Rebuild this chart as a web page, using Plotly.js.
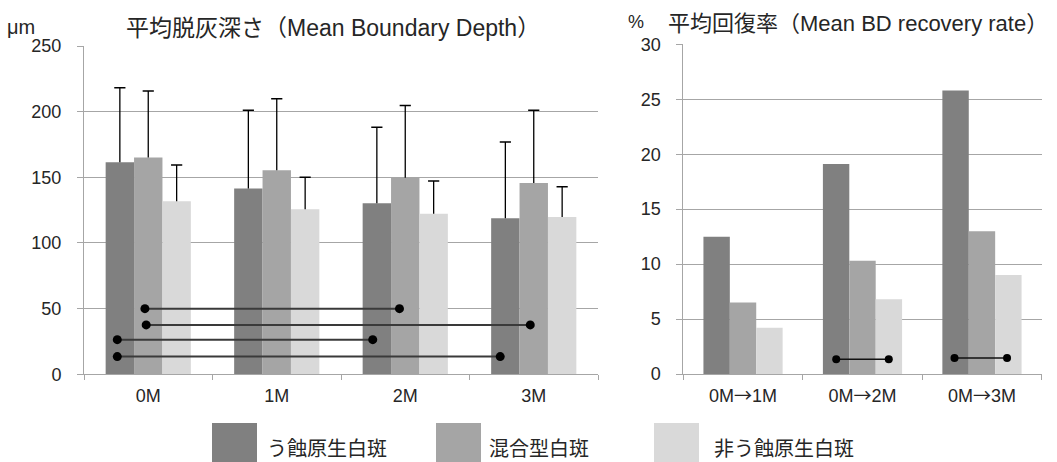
<!DOCTYPE html>
<html>
<head>
<meta charset="utf-8">
<script src="https://cdn.plot.ly/plotly-3.0.1.min.js"></script>
<style>html,body{margin:0;padding:0;background:#fff;}#chart{width:1057px;height:462px;}</style>
</head>
<body>
<div id="chart"></div>
<script>
// ---- data ----
const categoriesDepth = ['0M', '1M', '2M', '3M'];
const categoriesRate = ['0M→1M', '0M→2M', '0M→3M'];
const seriesNames = ['う蝕原生白斑', '混合型白斑', '非う蝕原生白斑'];

const depthCaries = [161.4, 141.4, 130.2, 118.8];
const depthMixed = [165.0, 155.3, 149.7, 145.7];
const depthNonCaries = [131.7, 125.6, 122.3, 119.8];
const sdCaries = [56.9, 59.6, 57.9, 58.1];
const sdMixed = [50.7, 54.6, 54.9, 55.3];
const sdNonCaries = [27.7, 24.4, 24.9, 23.1];

const rateCaries = [12.5, 19.1, 25.8];
const rateMixed = [6.5, 10.3, 13.0];
const rateNonCaries = [4.2, 6.8, 9.0];

// significance connectors (category-index coordinates)
const depthSigX0 = [-0.026, -0.016, -0.241, -0.241];
const depthSigX1 = [1.955, 2.973, 1.747, 2.739];
const depthSigY = [50, 37.6, 26.4, 13.5];
const rateSigX0 = [0.78, 1.77];
const rateSigX1 = [1.22, 2.21];
const rateSigY = [1.35, 1.45];

const depthTicks = [0, 50, 100, 150, 200, 250];
const rateTicks = [0, 5, 10, 15, 20, 25, 30];

// ---- style ----
const colors = ['#808080', '#a5a5a5', '#d9d9d9'];
const W = 1057, H = 462;
const px = v => v / W;
const py = v => 1 - v / H;
const FONT = 'Liberation Sans, Arial, Noto Sans CJK JP, sans-serif';
const TXT = '#262626';
const GRID = '#a6a6a6';
const BARGAP = 0.337;
const barW = (1 - BARGAP) / 3;

const depthVals = [depthCaries, depthMixed, depthNonCaries];
const depthSd = [sdCaries, sdMixed, sdNonCaries];
const rateVals = [rateCaries, rateMixed, rateNonCaries];

const traces = [];
depthVals.forEach((vals, i) => {
  traces.push({
    type: 'bar', x: categoriesDepth, y: vals, name: seriesNames[i],
    xaxis: 'x', yaxis: 'y', showlegend: false, hoverinfo: 'skip',
    marker: {color: colors[i], line: {width: 0}},
    error_y: {type: 'data', symmetric: false, array: depthSd[i],
      arrayminus: vals.map(() => 0), color: '#000', thickness: 1.3, width: 0}
  });
});
// caps at the top of the (one-sided) error bars
depthVals.forEach((vals, i) => {
  traces.push({
    type: 'scatter', mode: 'markers',
    x: vals.map((v, j) => j + (i - 1) * barW),
    y: vals.map((v, j) => v + depthSd[i][j]),
    xaxis: 'x3', yaxis: 'y', showlegend: false, hoverinfo: 'skip',
    marker: {symbol: 'line-ew-open', size: 8, color: '#000', line: {color: '#000', width: 1.5}}
  });
});
rateVals.forEach((vals, i) => {
  traces.push({
    type: 'bar', x: categoriesRate, y: vals, name: seriesNames[i],
    xaxis: 'x2', yaxis: 'y2', showlegend: false, hoverinfo: 'skip',
    marker: {color: colors[i], line: {width: 0}}
  });
});
depthSigY.forEach((yv, i) => {
  traces.push({
    type: 'scatter', mode: 'lines+markers', x: [depthSigX0[i], depthSigX1[i]], y: [yv, yv],
    xaxis: 'x3', yaxis: 'y', showlegend: false, hoverinfo: 'skip',
    line: {color: '#3a3a3a', width: 2}, marker: {color: '#000', size: 9}
  });
});
rateSigY.forEach((yv, i) => {
  traces.push({
    type: 'scatter', mode: 'lines+markers', x: [rateSigX0[i], rateSigX1[i]], y: [yv, yv],
    xaxis: 'x4', yaxis: 'y2', showlegend: false, hoverinfo: 'skip',
    line: {color: '#111', width: 1.5}, marker: {color: '#000', size: 8}
  });
});

const xCommon = {
  type: 'category', showline: true, linecolor: GRID, linewidth: 1,
  ticks: 'outside', tickson: 'boundaries', ticklen: 5, tickcolor: GRID,
  showgrid: false, zeroline: false, fixedrange: true, ticklabelstandoff: 5,
  tickfont: {family: FONT, size: 18, color: TXT}
};
const yCommon = {
  showline: true, linecolor: GRID, linewidth: 1, ticks: 'outside', ticklen: 6,
  tickcolor: GRID, showgrid: true, gridcolor: GRID, gridwidth: 1, zeroline: false,
  tickfont: {family: FONT, size: 18, color: TXT}, ticklabelstandoff: 12, fixedrange: true
};

const shapes = [];
const annotations = [];
const swatchX = [212, 436, 654];
const labelX = [265, 487, 712];
seriesNames.forEach((nm, i) => {
  shapes.push({type: 'rect', xref: 'paper', yref: 'paper',
    x0: px(swatchX[i]), x1: px(swatchX[i] + 45), y0: py(462), y1: py(423),
    fillcolor: colors[i], line: {width: 0}});
  annotations.push({xref: 'paper', yref: 'paper', x: px(labelX[i]), y: py(449),
    xanchor: 'left', yanchor: 'middle', showarrow: false, text: nm,
    font: {family: FONT, size: 20, color: TXT}});
});
annotations.push(
  {xref: 'paper', yref: 'paper', x: px(333), y: py(28), xanchor: 'center', yanchor: 'middle',
    showarrow: false, text: '平均脱灰深さ（Mean Boundary Depth）', font: {family: FONT, size: 23, color: TXT}},
  {xref: 'paper', yref: 'paper', x: px(858), y: py(23), xanchor: 'center', yanchor: 'middle',
    showarrow: false, text: '平均回復率（Mean BD recovery rate）', font: {family: FONT, size: 22, color: TXT}},
  {xref: 'paper', yref: 'paper', x: px(5), y: py(27), xanchor: 'left', yanchor: 'middle',
    showarrow: false, text: 'μm', font: {family: FONT, size: 20, color: TXT}},
  {xref: 'paper', yref: 'paper', x: px(626), y: py(22), xanchor: 'left', yanchor: 'middle',
    showarrow: false, text: '%', font: {family: FONT, size: 18, color: TXT}}
);

const layout = {
  width: W, height: H, margin: {l: 0, r: 0, t: 0, b: 0},
  paper_bgcolor: '#fff', plot_bgcolor: '#fff',
  barmode: 'group', bargap: BARGAP, bargroupgap: 0, showlegend: false,
  xaxis: Object.assign({}, xCommon, {domain: [px(84), px(598)], anchor: 'y'}),
  yaxis: Object.assign({}, yCommon, {domain: [py(374.3), py(46)], range: [0, 250],
    tickvals: depthTicks, anchor: 'x'}),
  xaxis2: Object.assign({}, xCommon, {domain: [px(683.3), px(1041.7)], anchor: 'y2',
    tickmode: 'array', tickvals: categoriesRate,
    ticktext: categoriesRate.map(s => s.replace('→', '<span style="font-family:Noto Sans CJK JP">→</span>'))}),
  yaxis2: Object.assign({}, yCommon, {domain: [py(374), py(44.3)], range: [0, 30],
    tickvals: rateTicks, anchor: 'x2'}),
  xaxis3: {overlaying: 'x', range: [-0.5, 3.5], visible: false, fixedrange: true},
  xaxis4: {overlaying: 'x2', range: [-0.5, 2.5], visible: false, fixedrange: true},
  shapes: shapes, annotations: annotations,
  font: {family: FONT, color: TXT}
};

Plotly.newPlot('chart', traces, layout, {displayModeBar: false, staticPlot: true});
</script>
</body>
</html>
